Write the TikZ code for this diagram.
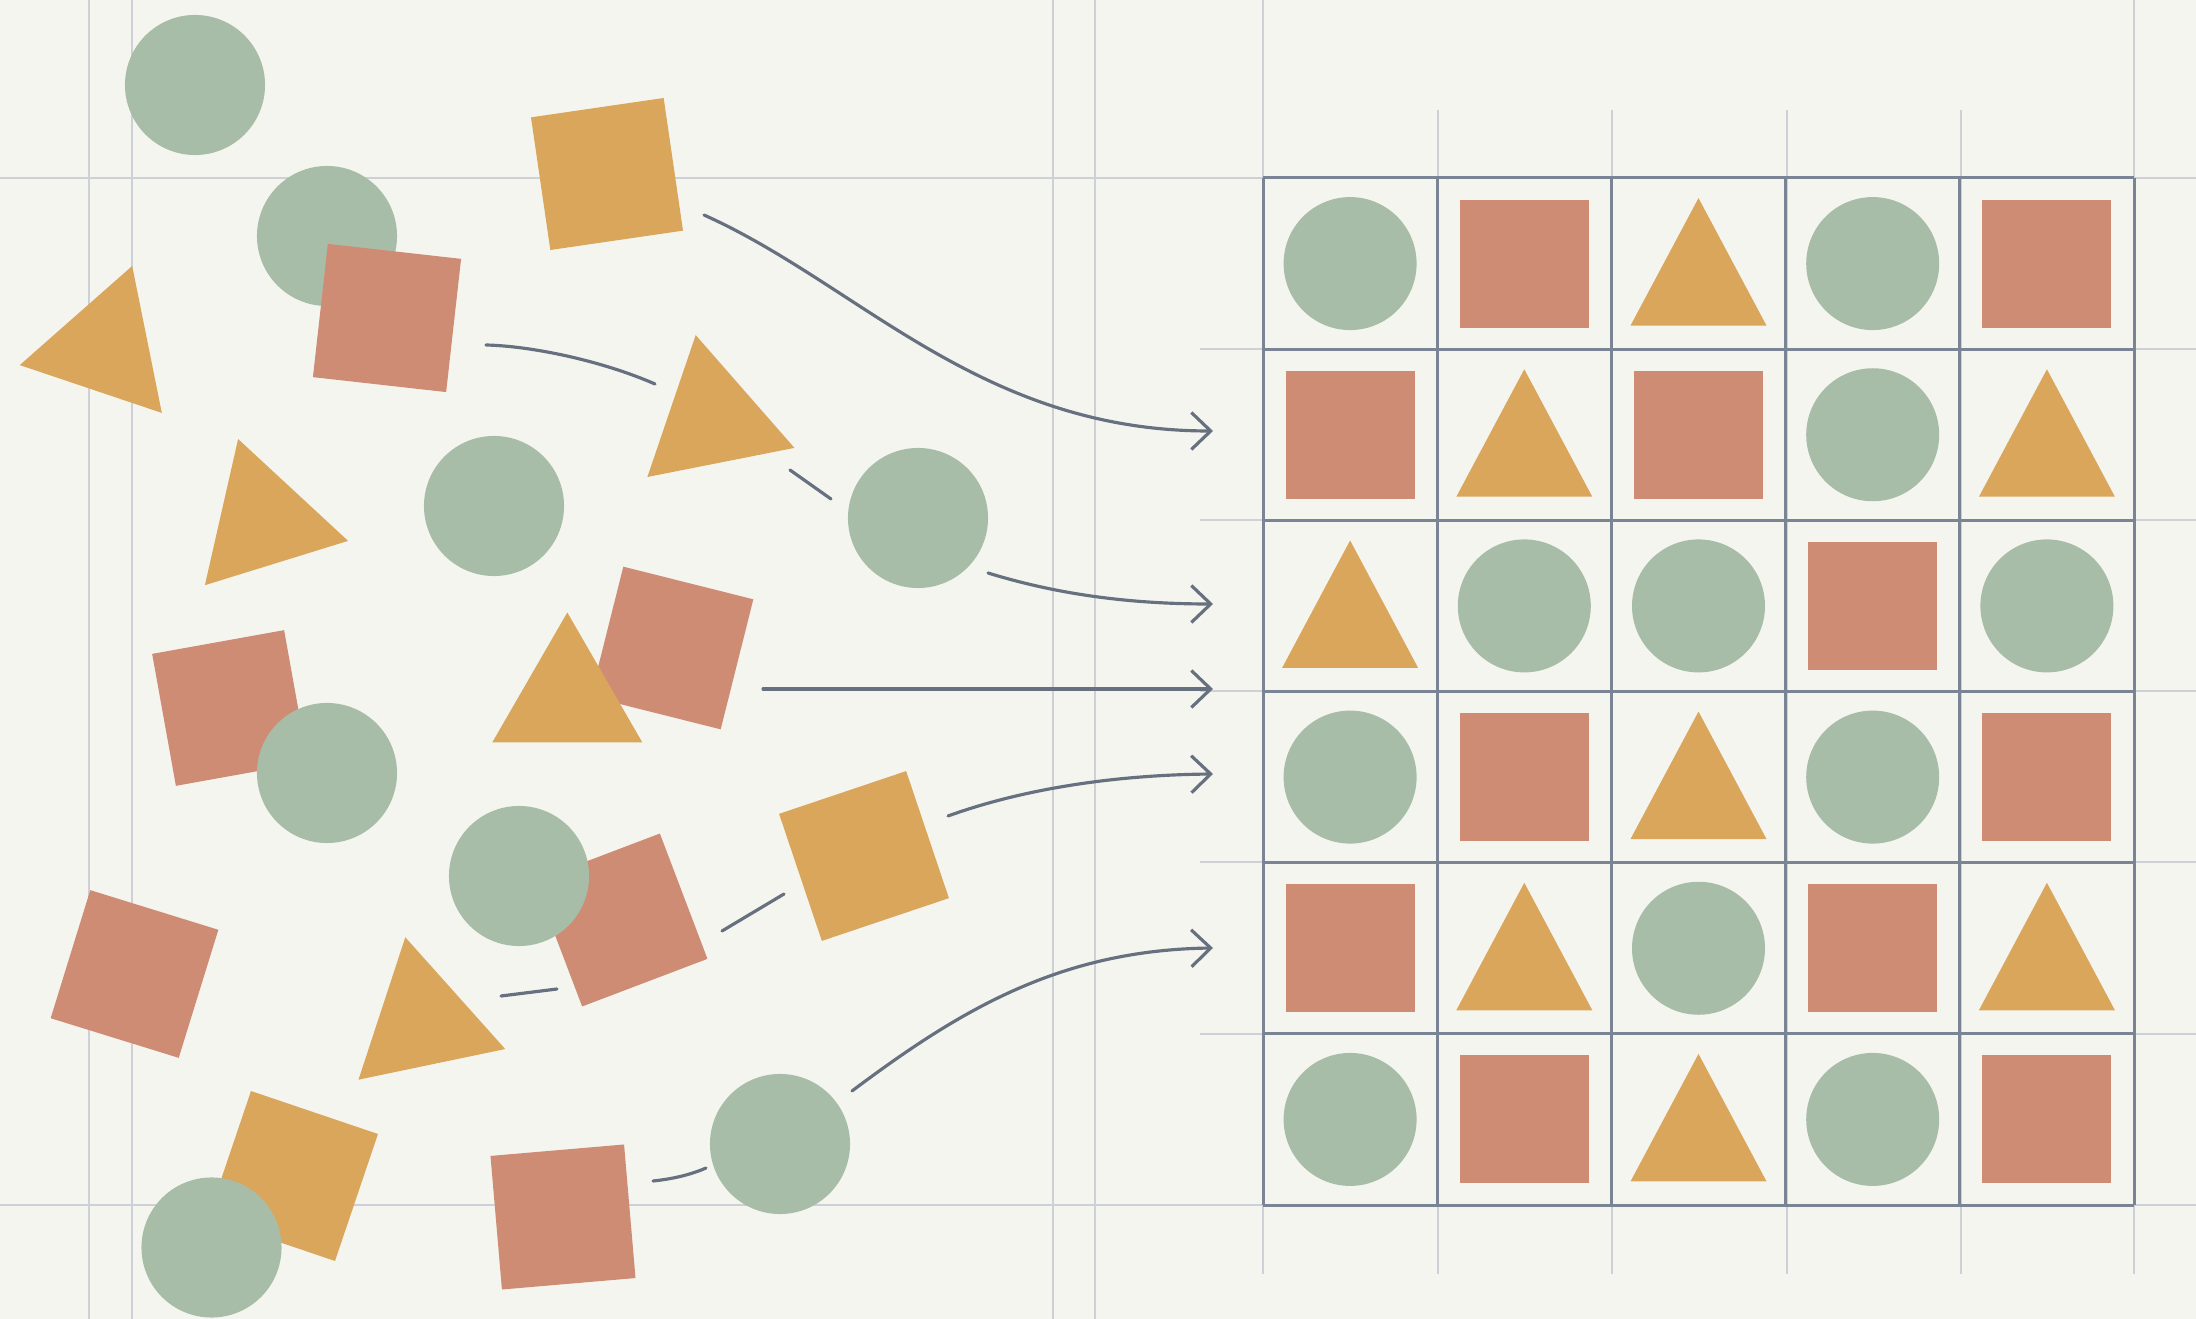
\documentclass[tikz,border=0pt]{standalone}
\usepackage{tikz}
\usetikzlibrary{arrows.meta,positioning,shapes.geometric}
\definecolor{paper}{HTML}{F5F5F0}
\definecolor{rulec}{HTML}{CDD0D6}
\definecolor{gridc}{HTML}{7A8494}
\definecolor{ink}{HTML}{66707F}
\definecolor{sage}{HTML}{A8BDA8}
\definecolor{clay}{HTML}{CF8C74}
\definecolor{ochre}{HTML}{D9A65C}

\begin{document}
\begin{tikzpicture}[
  x=0.01cm, y=-0.01cm,
  rulel/.style={draw=rulec, line width=0.6pt},
  gridl/.style={draw=gridc, line width=0.85pt},
  blob/.style={circle, fill=sage, minimum size=14mm, inner sep=0pt},
  tile/.style={rectangle, minimum size=13.4mm, inner sep=0pt},
  wedge/.style={regular polygon, regular polygon sides=3, minimum size=17.3mm,
                inner sep=0pt, fill=ochre},
  seg/.style={draw=ink, line width=0.9pt, line cap=round},
  flow/.style={seg, -{Straight Barb[length=5.5pt, width=10.5pt]}},
  gc/.pic={\fill[sage] (0,0) circle[radius=66.5];},
  gs/.pic={\fill[clay] (-64.5,-64) rectangle (64.5,64);},
  gt/.pic={\fill[ochre] (-68,62) -- (0,-65.5) -- (68,62) -- cycle;}
]
  \useasboundingbox (0,0) rectangle (2196,1319);
  \fill[paper] (0,0) rectangle (2196,1319);

  % paper rules
  \foreach \x in {89,132,1053,1095}
    \draw[rulel] (\x,0) -- (\x,1319);
  \foreach \x in {1263,2134}
    \draw[rulel] (\x,0) -- (\x,1274);
  \foreach \x in {1438,1612,1787,1961}
    \draw[rulel] (\x,110) -- (\x,1274);
  \foreach \y in {178,1205}
    \draw[rulel] (0,\y) -- (2196,\y);
  \foreach \y in {349,520,691,862,1034}
    \draw[rulel] (1200,\y) -- (2196,\y);

  % sorted grid
  \foreach \i in {0,...,5}
    \draw[gridl] ({1263+174.2*\i},178) -- ({1263+174.2*\i},1205);
  \foreach \j in {0,...,6}
    \draw[gridl] (1263,{178+171.17*\j}) -- (2134,{178+171.17*\j});
  \foreach \row [count=\r from 0] in
      {{c,s,t,c,s},{s,t,s,c,t},{t,c,c,s,c},{c,s,t,c,s},{s,t,c,s,t},{c,s,t,c,s}}
    \foreach \k [count=\c from 0] in \row
      \pic at ({1263+174.2*(\c+0.5)},{178+171.17*(\r+0.5)}) {g\k};

  % loose pile
  \node[blob] (dot1) at (195,85) {};
  \node[blob] (dot2) at (327,236) {};
  \node[tile, fill=clay, rotate=-6.4] (sq2) at (387,318) {};
  \node[tile, fill=ochre, rotate=8.3] (sq1) at (607,174) {};
  \node[wedge, rotate=-18.6] (tri1) at (104.6,348) {};
  \node[wedge, rotate=17.2] (tri2) at (263.7,521.7) {};
  \node[blob] (dot3) at (494,506) {};
  \node[wedge, rotate=11.2] (tri3) at (712.5,420) {};
  \node[blob] (dot4) at (918,518) {};
  \node[tile, fill=clay, rotate=-14.1] (sq3) at (672,648) {};
  \node[wedge] (tri4) at (567.3,699) {};
  \node[tile, fill=clay, rotate=10.2] (sq4) at (230,708) {};
  \node[blob] (dot5) at (327,773) {};
  \node[tile, fill=clay, rotate=20.8] (sq5) at (621,920) {};
  \node[blob] (dot6) at (519,876) {};
  \node[tile, fill=ochre, rotate=18.6] (sq6) at (864,856) {};
  \node[tile, fill=clay, rotate=-17.2] (sq7) at (134.5,974) {};
  \node[wedge, rotate=11.8] (tri5) at (423,1022) {};
  \node[tile, fill=ochre, rotate=-18.7] (sq8) at (293,1176) {};
  \node[blob] (dot8) at (211.5,1247.5) {};
  \node[tile, fill=clay, rotate=4.9] (sq9) at (563,1217) {};
  \node[blob] (dot7) at (780,1144) {};

  % connectors
  \coordinate (a0) at (704,215);  \coordinate (a1) at (1213,431);
  \coordinate (b0) at (486,345);  \coordinate (b1) at (655,384);
  \coordinate (b2) at (790,470);  \coordinate (b3) at (831,499);
  \coordinate (b4) at (988,573);  \coordinate (b5) at (1213,604);
  \coordinate (m0) at (763,689);  \coordinate (m1) at (1213,689);
  \coordinate (d0) at (501,996);  \coordinate (d1) at (557,989);
  \coordinate (d2) at (722,931);  \coordinate (d3) at (784,894);
  \coordinate (d4) at (948,816);  \coordinate (d5) at (1213,774);
  \coordinate (e0) at (653,1181); \coordinate (e1) at (706,1168);
  \coordinate (e2) at (852,1091); \coordinate (e3) at (1213,948);

  \draw[flow] (a0) .. controls (860,285) and (980,431) .. (a1);
  \draw[seg] (b0) .. controls (530,346) and (600,360) .. (b1);
  \draw[seg] (b2) -- (b3);
  \draw[flow] (b4) .. controls (1050,592) and (1120,604) .. (b5);
  \draw[flow] (m0) -- (m1);
  \draw[seg] (d0) -- (d1);
  \draw[seg] (d2) -- (d3);
  \draw[flow] (d4) .. controls (1020,790) and (1110,775) .. (d5);
  \draw[seg] (e0) .. controls (672,1179) and (690,1175) .. (e1);
  \draw[flow] (e2) .. controls (960,1010) and (1060,950) .. (e3);
\end{tikzpicture}
\end{document}
